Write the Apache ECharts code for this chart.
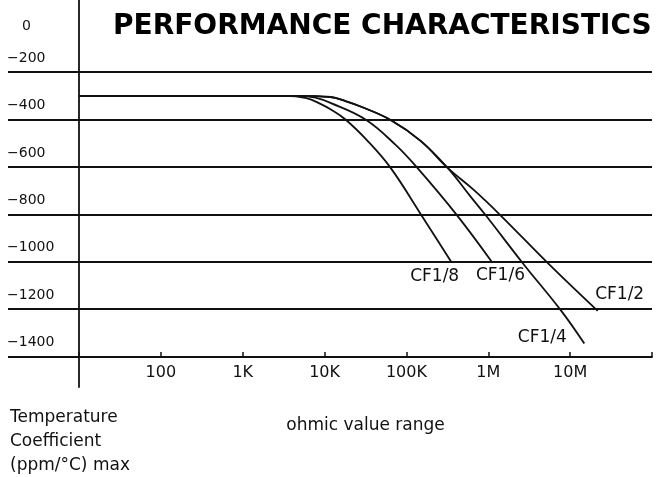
<!DOCTYPE html>
<html>
<head>
<meta charset="utf-8">
<script src="https://cdn.jsdelivr.net/npm/echarts@6/dist/echarts.min.js"></script>
<style>
  html, body { margin: 0; padding: 0; background: #fff; }
  #chart { width: 659px; height: 477px; }
</style>
</head>
<body>
<div id="chart"></div>
<script>
// x axis: ohmic value (log), y axis: temperature coefficient ppm/°C
const ohmTicks = [100, 1e3, 1e4, 1e5, 1e6, 1e7];
const ohmTickLabels = ["100", "1K", "10K", "100K", "1M", "10M"];
const tcLabels = [0, -200, -400, -600, -800, -1000, -1200, -1400];
const tcLines = [-200, -400, -600, -800, -1000, -1200, -1400];

const seriesNames = ["CF1/8", "CF1/6", "CF1/4", "CF1/2"];

// [ohm, ppm/°C]
const cf18 = [[10, -300], [3300, -300], [6000, -310], [8900, -334], [11800, -357], [18000, -400],
  [33500, -490], [64100, -604], [149000, -798], [357000, -1003]];
const cf16 = [[10, -300], [5000, -300], [7700, -308], [11800, -330], [31600, -400], [73800, -507],
  [136000, -604], [411000, -802], [1124000, -1004]];
const cf14 = [[10, -300], [4700, -300], [11800, -305], [18000, -322], [27500, -345], [64100, -402],
  [149000, -490], [319000, -604], [611000, -726], [931000, -804], [2640000, -1006], [7710000, -1205],
  [14900000, -1345]];
const cf12 = [[10, -300], [4700, -300], [11800, -305], [18000, -322], [27500, -345], [64100, -402],
  [149000, -490], [319000, -604], [665000, -697], [1420000, -805], [5500000, -1010], [21700000, -1207]];

const seriesData = [cf18, cf16, cf14, cf12];
// where each name sits relative to the end of its curve
const labelOffsets = [[-17, 14], [8, 13], [-42, -6], [22, -16]];

const FONT = "DejaVu Sans";
const INK = "#111";
const Y_MIN = -1528, Y_MAX = 104;

function ohmLabel(v) {
  for (let i = 0; i < ohmTicks.length; i++) {
    if (Math.abs(Math.log10(v) - Math.log10(ohmTicks[i])) < 1e-6) return ohmTickLabels[i];
  }
  return "";
}

const chart = echarts.init(document.getElementById("chart"), null, { renderer: "canvas" });

chart.setOption({
  animation: false,
  backgroundColor: "#fff",
  title: [
    {
      text: "PERFORMANCE CHARACTERISTICS",
      left: 113, top: 13, padding: 0,
      textStyle: { fontFamily: FONT, fontWeight: "bold", fontSize: 28, color: "#000" }
    },
    {
      text: "Temperature\nCoefficient\n(ppm/°C) max",
      left: 10, top: 406, padding: 0,
      textStyle: { fontFamily: FONT, fontWeight: "normal", fontSize: 17, lineHeight: 24, color: INK }
    }
  ],
  grid: [
    { left: 79, right: 7, top: 0, bottom: 90 },
    { left: 8, width: 71, top: 0, bottom: 90 }  // grid lines left of the y axis
  ],
  xAxis: [
    {
      type: "log",
      gridIndex: 0,
      min: 10,
      max: 1e8,
      splitNumber: 7,
      offset: -30,
      name: "ohmic value range",
      nameLocation: "middle",
      nameGap: 60,
      nameTextStyle: { fontFamily: FONT, fontSize: 17, color: INK },
      axisLine: { onZero: false, lineStyle: { color: INK, width: 1.8 } },
      axisTick: { inside: true, length: 5, lineStyle: { color: INK, width: 1.5 } },
      axisLabel: { margin: 8, fontFamily: FONT, fontSize: 16, color: INK, formatter: ohmLabel },
      splitLine: { show: false }
    },
    { type: "value", gridIndex: 1, show: false }
  ],
  yAxis: [
    {
      type: "value",
      gridIndex: 0,
      min: Y_MIN,
      max: Y_MAX,
      axisLine: { show: true, onZero: false, lineStyle: { color: INK, width: 1.8 } },
      axisTick: { show: false, customValues: tcLines },
      splitLine: { show: true, lineStyle: { color: INK, width: 1.8 } },
      axisLabel: {
        customValues: tcLabels,
        align: "left",
        margin: 72,
        formatter: v => v === 0 ? "{z|0}" : "{n|" + String(v).replace("-", "\u2212") + "}",
        rich: {
          n: { fontFamily: FONT, fontSize: 14, color: INK, padding: [0, 0, 28, 0] },
          z: { fontFamily: FONT, fontSize: 14, color: INK, padding: [4, 0, 0, 15] }
        }
      }
    },
    {
      type: "value",
      gridIndex: 1,
      min: Y_MIN,
      max: Y_MAX,
      axisLine: { show: false },
      axisTick: { show: false, customValues: tcLines },
      axisLabel: { show: false },
      splitLine: { show: true, lineStyle: { color: INK, width: 1.8 } }
    }
  ],
  series: seriesData.map((data, i) => ({
    name: seriesNames[i],
    type: "line",
    xAxisIndex: 0,
    yAxisIndex: 0,
    data: data,
    smooth: 0.4,
    showSymbol: false,
    silent: true,
    lineStyle: { color: INK, width: 1.8 },
    markPoint: {
      symbol: "circle",
      symbolSize: 1,
      silent: true,
      itemStyle: { color: "rgba(0,0,0,0)" },
      label: {
        show: true,
        position: "inside",
        offset: labelOffsets[i],
        formatter: seriesNames[i],
        fontFamily: FONT,
        fontSize: 17,
        color: INK
      },
      data: [{ coord: data[data.length - 1] }]
    }
  }))
});
</script>
</body>
</html>
